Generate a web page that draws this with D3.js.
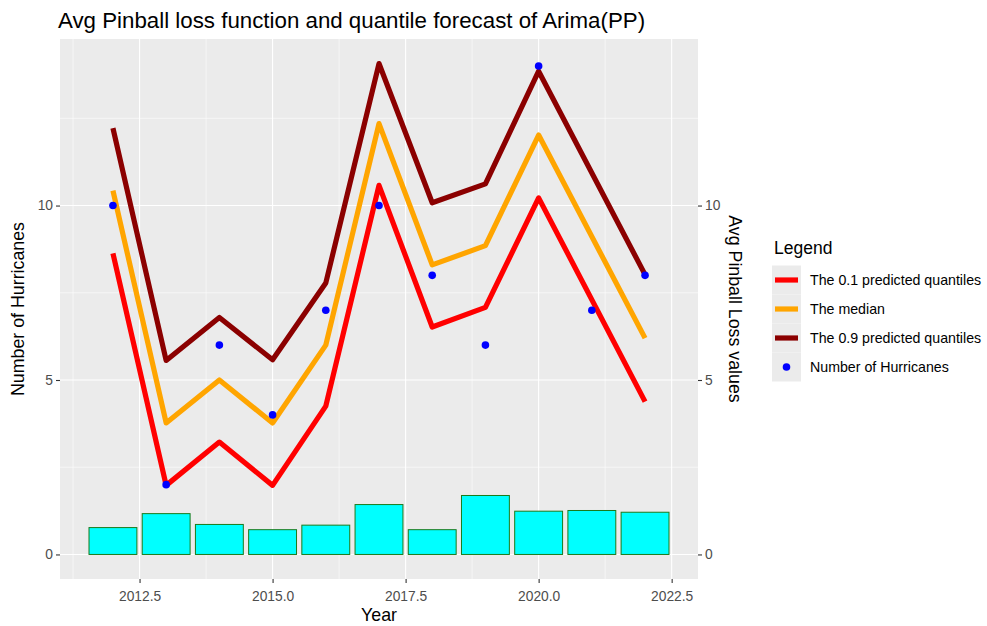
<!DOCTYPE html>
<html>
<head>
<meta charset="utf-8">
<script src="https://cdn.jsdelivr.net/npm/d3@7"></script>
<style>
  html, body { margin: 0; padding: 0; background: #ffffff; }
  svg { display: block; font-family: "Liberation Sans", Arial, sans-serif; }
</style>
</head>
<body>
<svg id="chart" width="987" height="626"></svg>
<script>
// ---- data ----
const years = [2012, 2013, 2014, 2015, 2016, 2017, 2018, 2019, 2020, 2021, 2022];
const hurricanes = [10, 2, 6, 4, 7, 10, 8, 6, 14, 7, 8];
const pinballLoss = [0.77, 1.17, 0.86, 0.71, 0.84, 1.43, 0.71, 1.69, 1.24, 1.26, 1.21];
// quantile forecasts (no vertex at 2021 in the reference: null)
const q10 = [8.63, 1.98, 3.22, 1.98, 4.25, 10.58, 6.52, 7.08, 10.22, null, 4.38];
const q50 = [10.43, 3.77, 5.00, 3.77, 6.00, 12.35, 8.30, 8.85, 12.02, null, 6.20];
const q90 = [12.22, 5.56, 6.79, 5.58, 7.78, 14.07, 10.08, 10.62, 13.85, null, 8.02];
const xTicks = [2012.5, 2015.0, 2017.5, 2020.0, 2022.5];
const yTicks = [0, 5, 10];
const legendLabels = ["The 0.1 predicted quantiles", "The median", "The 0.9 predicted quantiles", "Number of Hurricanes"];
const legendColors = ["#ff0000", "#ffa500", "#8b0000", "#0000ff"];

const titleText = "Avg Pinball loss function and quantile forecast of Arima(PP)";

// ---- layout ----
const svg = d3.select("#chart");
const panel = { left: 60, right: 698, top: 39, bottom: 579 };
const barWidth = 0.9;

const xMin = d3.min(years) - barWidth / 2, xMax = d3.max(years) + barWidth / 2;
const xPad = (xMax - xMin) * 0.05;
const x = d3.scaleLinear().domain([xMin - xPad, xMax + xPad]).range([panel.left, panel.right]);

const allY = [].concat(hurricanes, pinballLoss, q10, q50, q90, [0]).filter(v => v != null);
const yLo = d3.min(allY), yHi = d3.max(allY);
const yPad = (yHi - yLo) * 0.05;
const y = d3.scaleLinear().domain([yLo - yPad, yHi + yPad]).range([panel.bottom, panel.top]);

// panel background
svg.append("rect")
  .attr("x", panel.left).attr("y", panel.top)
  .attr("width", panel.right - panel.left).attr("height", panel.bottom - panel.top)
  .attr("fill", "#ebebeb");

// grid
const xMinor = [];
for (let i = 0; i < xTicks.length + 1; i++) {
  const v = xTicks[0] - 1.25 + i * 2.5;
  if (v > x.domain()[0] && v < x.domain()[1]) xMinor.push(v);
}
const yMinor = [2.5, 7.5, 12.5].filter(v => v > y.domain()[0] && v < y.domain()[1]);
const grid = svg.append("g");
grid.selectAll(".xm").data(xMinor).enter().append("line")
  .attr("x1", d => x(d)).attr("x2", d => x(d)).attr("y1", panel.top).attr("y2", panel.bottom)
  .attr("stroke", "#ffffff").attr("stroke-width", 0.55);
grid.selectAll(".ym").data(yMinor).enter().append("line")
  .attr("y1", d => y(d)).attr("y2", d => y(d)).attr("x1", panel.left).attr("x2", panel.right)
  .attr("stroke", "#ffffff").attr("stroke-width", 0.55);
grid.selectAll(".xM").data(xTicks).enter().append("line")
  .attr("x1", d => x(d)).attr("x2", d => x(d)).attr("y1", panel.top).attr("y2", panel.bottom)
  .attr("stroke", "#ffffff").attr("stroke-width", 1.1);
grid.selectAll(".yM").data(yTicks).enter().append("line")
  .attr("y1", d => y(d)).attr("y2", d => y(d)).attr("x1", panel.left).attr("x2", panel.right)
  .attr("stroke", "#ffffff").attr("stroke-width", 1.1);

// bars
const barData = years.map((yr, i) => ({ yr, v: pinballLoss[i] }));
svg.append("g").selectAll("rect").data(barData).enter().append("rect")
  .attr("x", d => x(d.yr - barWidth / 2))
  .attr("width", d => x(d.yr + barWidth / 2) - x(d.yr - barWidth / 2))
  .attr("y", d => y(d.v))
  .attr("height", d => y(0) - y(d.v))
  .attr("fill", "#00ffff").attr("stroke", "#1b7a1b").attr("stroke-width", 1);

// lines
const line = d3.line().x(d => x(d.yr)).y(d => y(d.v));
[[q10, legendColors[0]], [q50, legendColors[1]], [q90, legendColors[2]]].forEach(([vals, col]) => {
  const pts = years.map((yr, i) => ({ yr, v: vals[i] })).filter(d => d.v != null);
  svg.append("path").datum(pts).attr("d", line)
    .attr("fill", "none").attr("stroke", col).attr("stroke-width", 5.2)
    .attr("stroke-linejoin", "round").attr("stroke-linecap", "butt");
});

// points
svg.append("g").selectAll("circle").data(years.map((yr, i) => ({ yr, v: hurricanes[i] }))).enter()
  .append("circle").attr("cx", d => x(d.yr)).attr("cy", d => y(d.v)).attr("r", 3.8)
  .attr("fill", legendColors[3]);

// axes
const tickCol = "#333333", labCol = "#4d4d4d";
const axL = svg.append("g").attr("transform", `translate(${panel.left},0)`)
  .call(d3.axisLeft(y).tickValues(yTicks).tickSize(4).tickPadding(3).tickFormat(d3.format("d")));
const axR = svg.append("g").attr("transform", `translate(${panel.right},0)`)
  .call(d3.axisRight(y).tickValues(yTicks).tickSize(4).tickPadding(3).tickFormat(d3.format("d")));
const axB = svg.append("g").attr("transform", `translate(0,${panel.bottom})`)
  .call(d3.axisBottom(x).tickValues(xTicks).tickSize(4).tickPadding(8).tickFormat(d3.format(".1f")));
[axL, axR, axB].forEach(ax => {
  ax.select(".domain").remove();
  ax.selectAll(".tick line").attr("stroke", tickCol).attr("stroke-width", 1.1);
  ax.selectAll(".tick text").attr("fill", labCol).style("font-size", "13.8px")
    .style("font-family", "'Liberation Sans', Arial, sans-serif");
});

// titles
svg.append("text").attr("x", 58).attr("y", 28).text(titleText)
  .style("font-size", "22.3px").attr("fill", "#000");
svg.append("text").attr("x", (panel.left + panel.right) / 2).attr("y", 621)
  .attr("text-anchor", "middle").text("Year").style("font-size", "17.8px");
svg.append("text").attr("transform", `translate(24,${(panel.top + panel.bottom) / 2}) rotate(-90)`)
  .attr("text-anchor", "middle").text("Number of Hurricanes").style("font-size", "17.8px");
svg.append("text").attr("transform", `translate(729,${(panel.top + panel.bottom) / 2}) rotate(90)`)
  .attr("text-anchor", "middle").text("Avg Pinball Loss values").style("font-size", "17.8px");

// legend
const lg = svg.append("g").attr("transform", "translate(772,0)");
lg.append("text").attr("x", 2).attr("y", 254).text("Legend").style("font-size", "17.5px");
legendLabels.forEach((lab, i) => {
  const cy = 280 + i * 29;
  lg.append("rect").attr("x", 0).attr("y", cy - 14.5).attr("width", 29).attr("height", 29).attr("fill", "#ebebeb");
  if (i < 3) {
    lg.append("line").attr("x1", 3).attr("x2", 26).attr("y1", cy).attr("y2", cy)
      .attr("stroke", legendColors[i]).attr("stroke-width", 5.2);
  } else {
    lg.append("circle").attr("cx", 14.5).attr("cy", cy).attr("r", 3.8).attr("fill", legendColors[i]);
  }
  lg.append("text").attr("x", 38).attr("y", cy + 5).text(lab).style("font-size", "14.2px");
});
</script>
</body>
</html>
